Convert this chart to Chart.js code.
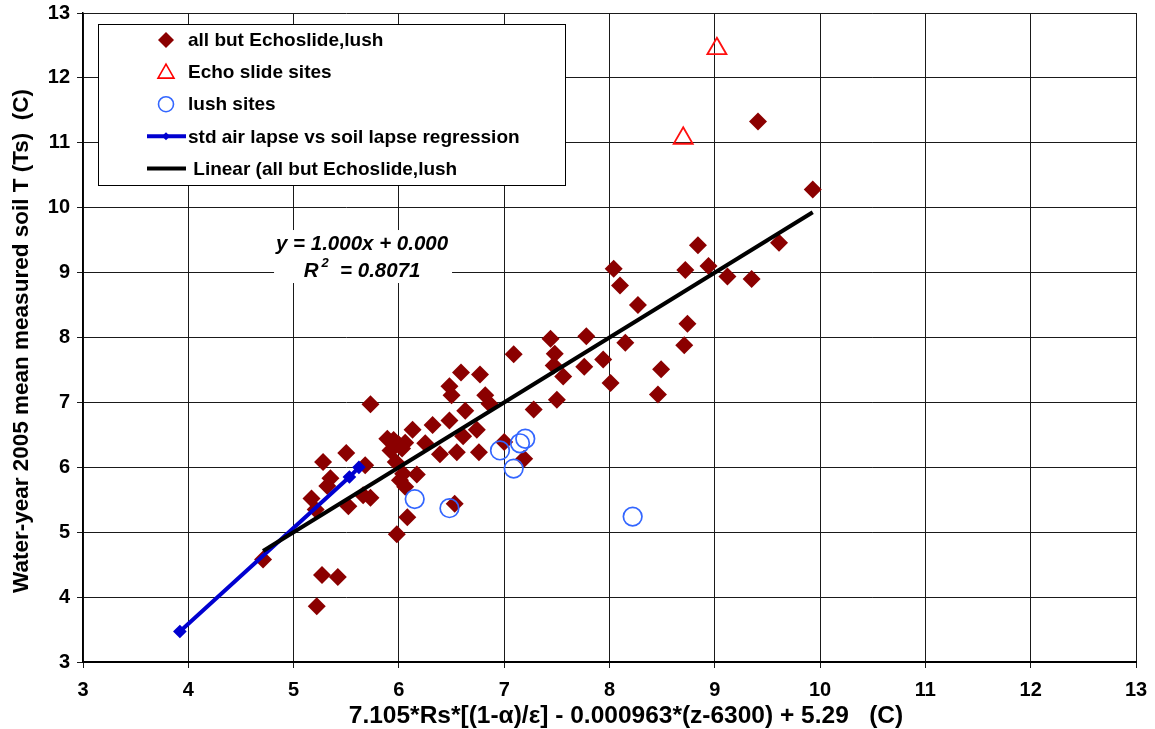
<!DOCTYPE html>
<html><head><meta charset="utf-8">
<script src="https://cdn.jsdelivr.net/npm/chart.js@4.4.0/dist/chart.umd.min.js"></script>
<style>html,body{margin:0;padding:0;background:#fff;}#wrap{width:1155px;height:729px;}</style>
</head><body><div id="wrap"><canvas id="c" width="1155" height="729"></canvas></div>
<script>
// ---- data ----
const diamondX = [4.71,5.22,5.27,5.42,5.17,5.21,5.52,5.66,5.73,5.32,5.35,5.28,5.50,5.68,5.73,
  5.89,5.95,6.00,6.06,5.92,6.03,5.97,6.04,6.17,6.01,6.06,6.08,5.98,6.13,6.32,6.48,6.25,6.39,
  6.55,6.76,6.63,6.59,6.77,6.48,6.50,6.82,6.86,6.74,6.61,7.00,7.19,6.53,7.09,7.44,7.48,7.47,
  7.56,7.50,7.28,7.76,7.78,7.94,8.01,8.15,8.27,8.04,8.10,8.49,8.46,8.71,8.74,8.72,8.84,8.94,
  9.12,9.35,9.61,9.41,9.93];
const diamondY = [4.58,3.86,4.34,4.31,5.52,5.35,5.40,5.57,5.53,5.71,5.83,6.08,6.22,6.03,6.97,
  6.44,6.42,6.35,6.38,6.26,6.29,6.08,5.90,5.89,5.80,5.70,5.23,4.97,6.58,6.65,6.72,6.37,6.20,
  6.23,6.23,6.87,7.46,7.43,7.25,7.11,7.11,6.98,6.58,6.48,6.39,6.13,5.44,7.74,7.98,7.75,7.57,
  7.40,7.04,6.89,7.55,8.02,7.66,7.30,7.92,8.50,9.06,8.80,7.51,7.12,7.88,8.21,9.04,9.42,9.10,
  8.94,8.90,9.46,11.33,10.28];
const echoX = [8.70, 9.02];
const echoY = [11.07, 12.45];
const lushX = [6.15, 6.48, 6.96, 7.15, 7.20, 7.09, 8.22];
const lushY = [5.51, 5.37, 6.26, 6.37, 6.44, 5.98, 5.24];
const lapseX = [3.92, 5.53, 5.62];
const lapseY = [3.47, 5.85, 6.00];
const fitSlope = 1.000;
const fitIntercept = 0.000;
const fitR2 = 0.8071;
const axisTicks = [3,4,5,6,7,8,9,10,11,12,13];
const seriesLabels = ['all but Echoslide,lush','Echo slide sites','lush sites',
  'std air lapse vs soil lapse regression',' Linear (all but Echoslide,lush'];
const xTitle = '7.105*Rs*[(1-\u03B1)/\u03B5] - 0.000963*(z-6300) + 5.29   (C)';
const yTitle = 'Water-year 2005 mean measured soil T (Ts)  (C)';
const eqPos = {x: 5.65, y: 9.24};

const FONT = "'Liberation Sans', Arial, Helvetica, sans-serif";
const toPts = (xs, ys) => xs.map((v, i) => ({x: v, y: ys[i]}));
const fitXmin = Math.min(...diamondX), fitXmax = Math.max(...diamondX);
const fitPts = [fitXmin, fitXmax].map(v => ({x: v, y: fitSlope * v + fitIntercept}));

const styles = [
  {type:'diamond', color:'#8B0000'},
  {type:'tri', color:'#FF0000'},
  {type:'circ', color:'#3366FF'},
  {type:'bline', color:'#0000D0'},
  {type:'kline', color:'#000000'}
];

const overlay = {
  id: 'overlay',
  afterDatasetsDraw(chart) {
    const ctx = chart.ctx;
    const xs = chart.scales.x, ys = chart.scales.y;
    ctx.save();
    // equation box
    const ex = xs.getPixelForValue(eqPos.x), ey = ys.getPixelForValue(eqPos.y);
    ctx.fillStyle = '#fff';
    ctx.fillRect(ex - 88, ey - 27, 178, 53);
    ctx.fillStyle = '#000';
    ctx.textBaseline = 'middle';
    ctx.textAlign = 'center';
    ctx.font = `italic bold 20.5px ${FONT}`;
    ctx.fillText(`y = ${fitSlope.toFixed(3)}x + ${fitIntercept.toFixed(3)}`, ex, ey - 13);
    const p1 = 'R', p2 = '2', p3 = '  = ' + fitR2.toFixed(4);
    const w1 = ctx.measureText(p1).width, w3 = ctx.measureText(p3).width;
    ctx.font = `italic bold 13px ${FONT}`;
    const w2 = ctx.measureText(p2).width + 3;
    let sx = ex - (w1 + w2 + w3) / 2;
    ctx.textAlign = 'left';
    ctx.font = `italic bold 20.5px ${FONT}`;
    ctx.fillText(p1, sx, ey + 14);
    ctx.font = `italic bold 13px ${FONT}`;
    ctx.fillText(p2, sx + w1 + 3, ey + 6);
    ctx.font = `italic bold 20.5px ${FONT}`;
    ctx.fillText(p3, sx + w1 + w2, ey + 14);

    // legend
    ctx.fillStyle = '#fff';
    ctx.fillRect(98, 24, 468, 162);
    ctx.strokeStyle = '#000';
    ctx.lineWidth = 1;
    ctx.strokeRect(98.5, 24.5, 467, 161);
    const mx = 166;
    seriesLabels.forEach((lab, i) => {
      const y = 40 + i * 32.1;
      const st = styles[i];
      ctx.save();
      if (st.type === 'diamond') {
        ctx.fillStyle = st.color;
        ctx.beginPath();
        ctx.moveTo(mx, y - 8); ctx.lineTo(mx + 8, y); ctx.lineTo(mx, y + 8); ctx.lineTo(mx - 8, y);
        ctx.closePath(); ctx.fill();
      } else if (st.type === 'tri') {
        ctx.strokeStyle = st.color; ctx.lineWidth = 1.6;
        ctx.beginPath();
        ctx.moveTo(mx, y - 8); ctx.lineTo(mx + 8, y + 6); ctx.lineTo(mx - 8, y + 6);
        ctx.closePath(); ctx.stroke();
      } else if (st.type === 'circ') {
        ctx.strokeStyle = st.color; ctx.lineWidth = 1.6;
        ctx.beginPath(); ctx.arc(mx, y, 7.5, 0, Math.PI * 2); ctx.stroke();
      } else {
        ctx.strokeStyle = st.color; ctx.lineWidth = 4;
        ctx.beginPath(); ctx.moveTo(147, y); ctx.lineTo(186, y); ctx.stroke();
        if (st.type === 'bline') {
          ctx.fillStyle = st.color;
          ctx.beginPath();
          ctx.moveTo(mx, y - 4); ctx.lineTo(mx + 4, y); ctx.lineTo(mx, y + 4); ctx.lineTo(mx - 4, y);
          ctx.closePath(); ctx.fill();
        }
      }
      ctx.restore();
      ctx.fillStyle = '#000';
      ctx.textAlign = 'left';
      ctx.textBaseline = 'middle';
      ctx.font = `bold 19px ${FONT}`;
      ctx.fillText(lab, 188, y + 1);
    });
    ctx.restore();
  },
  afterDraw(chart) {
    const ctx = chart.ctx;
    ctx.save();
    ctx.fillStyle = '#000';
    ctx.font = `bold 24.5px ${FONT}`;
    ctx.textAlign = 'center';
    ctx.textBaseline = 'middle';
    ctx.fillText(xTitle, 626, 716);
    ctx.font = `bold 22.5px ${FONT}`;
    ctx.translate(22, 341);
    ctx.rotate(-Math.PI / 2);
    ctx.fillText(yTitle, 0, 0);
    ctx.restore();
  }
};

const zeroPad = s => { s.paddingTop = 0; s.paddingBottom = 0; s.paddingLeft = 0; s.paddingRight = 0; };
const gridOpts = {color: '#1a1a1a', lineWidth: 1, drawTicks: true, tickLength: 6, tickColor: '#1a1a1a'};
new Chart(document.getElementById('c'), {
  type: 'scatter',
  data: {
    datasets: [
      {label: seriesLabels[0], data: toPts(diamondX, diamondY), pointStyle: 'rectRot', pointRadius: 9,
       pointHoverRadius: 9, backgroundColor: '#8B0000', borderColor: '#8B0000', borderWidth: 0, order: 4},
      {label: seriesLabels[1], data: toPts(echoX, echoY), pointStyle: 'triangle', pointRadius: 11,
       backgroundColor: 'rgba(0,0,0,0)', borderColor: '#FF1010', borderWidth: 1.8, order: 3},
      {label: seriesLabels[2], data: toPts(lushX, lushY), pointStyle: 'circle', pointRadius: 9.3,
       backgroundColor: 'rgba(0,0,0,0)', borderColor: '#3366FF', borderWidth: 1.7, order: 2},
      {label: seriesLabels[3], data: toPts(lapseX, lapseY), showLine: true, borderColor: '#0000D0',
       borderWidth: 4, pointStyle: 'rectRot', pointRadius: 4, backgroundColor: '#0000D0', order: 1},
      {label: seriesLabels[4], data: fitPts, showLine: true, borderColor: '#000', borderWidth: 4,
       pointRadius: 0, order: 0}
    ]
  },
  options: {
    responsive: false, animation: false, devicePixelRatio: 1,
    layout: {padding: {top: 13, right: 19, left: 0, bottom: 0}},
    plugins: {legend: {display: false}, tooltip: {enabled: false}},
    scales: {
      x: {
        type: 'linear', min: 3, max: 13,
        afterBuildTicks: s => { s.ticks = axisTicks.map(v => ({value: v})); },
        afterFit: s => { s.height = 67; zeroPad(s); },
        ticks: {font: {family: FONT, size: 20, weight: 'bold'}, color: '#000', padding: 10},
        grid: gridOpts,
        border: {color: '#000', width: 2}
      },
      y: {
        type: 'linear', min: 3, max: 13,
        afterBuildTicks: s => { s.ticks = axisTicks.map(v => ({value: v})); },
        afterFit: s => { s.width = 83; zeroPad(s); },
        ticks: {font: {family: FONT, size: 20, weight: 'bold'}, color: '#000', padding: 7},
        grid: gridOpts,
        border: {color: '#000', width: 1.5}
      }
    }
  },
  plugins: [overlay]
});
</script>
</body></html>
